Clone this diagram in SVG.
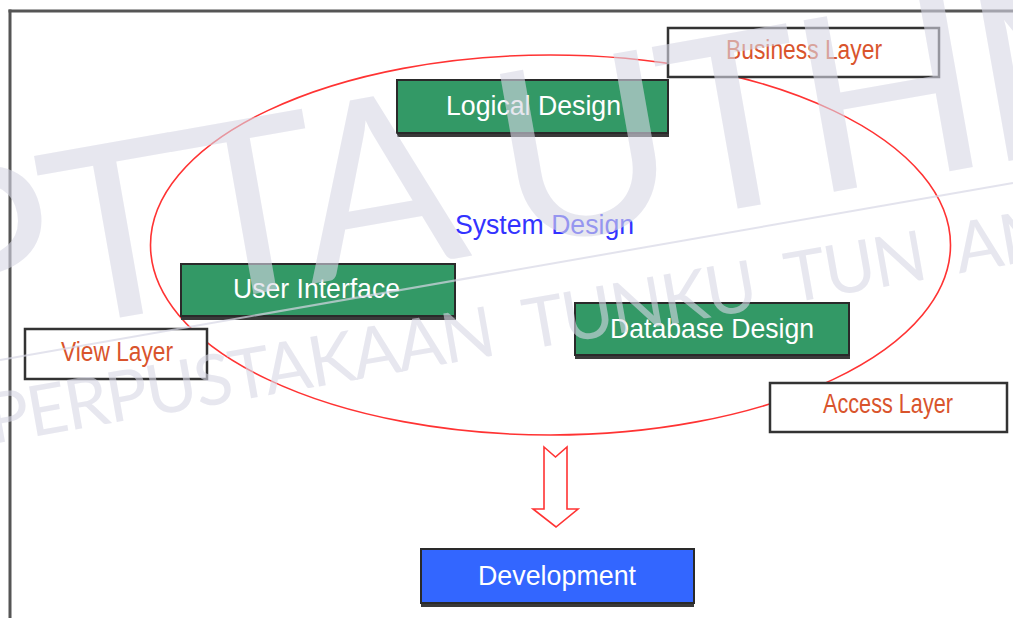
<svg xmlns="http://www.w3.org/2000/svg" width="1013" height="618" viewBox="0 0 1013 618">
<style>
.lbl{fill:#ffffff;stroke:#333333;stroke-width:2.5}
.lt{font-family:"Liberation Sans",Arial,sans-serif;font-size:27px;fill:#d9542c}
.g{fill:#339966;stroke:#2a2a2a;stroke-width:2}
.sh{fill:#3a3a3a}
.gt{font-family:"Liberation Sans",Arial,sans-serif;font-size:28px;fill:#ffffff}
.wm{font-family:Lato,"DejaVu Sans",sans-serif;fill:#d8d8e6;opacity:0.6}
</style>
<rect x="0" y="0" width="1013" height="618" fill="#ffffff"/>
<g id="frame" fill="none" stroke="#555555">
<line x1="8.5" y1="11" x2="1013" y2="11" stroke-width="3"/>
<line x1="10" y1="9.5" x2="10" y2="618" stroke-width="3"/>
</g>
<g id="system-design">
<ellipse cx="550.5" cy="245" rx="400" ry="190" fill="none" stroke="#ff3333" stroke-width="1.6"/>
<text x="455" y="234" textLength="179" lengthAdjust="spacingAndGlyphs" font-family="Liberation Sans,Arial,sans-serif" font-size="27" fill="#3333ff">System Design</text>
</g>
<g id="business-layer">
<rect class="lbl" x="668" y="28" width="271" height="49"/>
<text class="lt" x="726" y="59" textLength="156" lengthAdjust="spacingAndGlyphs">Business Layer</text>
</g>
<g id="logical-design">
<rect class="sh" x="397" y="82" width="272" height="55"/>
<rect class="g" x="397" y="80" width="271" height="53"/>
<text class="gt" x="446" y="115" textLength="175" lengthAdjust="spacingAndGlyphs">Logical Design</text>
</g>
<g id="user-interface">
<rect class="sh" x="181" y="266" width="275" height="54"/>
<rect class="g" x="181" y="264" width="274" height="52"/>
<text class="gt" x="233" y="298" textLength="167" lengthAdjust="spacingAndGlyphs">User Interface</text>
</g>
<g id="database-design">
<rect class="sh" x="575" y="305" width="275" height="54"/>
<rect class="g" x="575" y="303" width="274" height="52"/>
<text class="gt" x="610" y="338" textLength="204" lengthAdjust="spacingAndGlyphs">Database Design</text>
</g>
<g id="view-layer">
<rect class="lbl" x="25" y="329" width="182" height="50"/>
<text class="lt" x="61" y="361" textLength="112" lengthAdjust="spacingAndGlyphs">View Layer</text>
</g>
<g id="access-layer">
<rect class="lbl" x="770" y="383" width="237" height="49"/>
<text class="lt" x="823" y="413" textLength="130" lengthAdjust="spacingAndGlyphs">Access Layer</text>
</g>
<g id="connectors">
<path d="M544,447 L555.5,457 L567,447 L567,509 L578,509 L556,527 L533,509 L544,509 Z" fill="#ffffff" stroke="#ff3333" stroke-width="1.6" stroke-linejoin="miter"/>
</g>
<g id="development">
<rect class="sh" x="421" y="551" width="273" height="56"/>
<rect fill="#3366ff" stroke="#2a2a2a" stroke-width="2" x="421" y="549" width="273" height="54"/>
<text class="gt" x="478" y="585" textLength="158" lengthAdjust="spacingAndGlyphs">Development</text>
</g>
<g id="watermark">
<text class="wm" transform="translate(-75 352) rotate(-10)" x="0" y="0" font-size="243" letter-spacing="-8">PTTA UTHM</text>
<line x1="0" y1="360" x2="1013" y2="183" stroke="#d8d8e6" stroke-width="2" opacity="0.7"/>
<text class="wm" transform="translate(-8 444) rotate(-10)" x="0" y="0" font-size="70" letter-spacing="-2" word-spacing="18">PERPUSTAKAAN TUNKU TUN AMINAH</text>
</g>
</svg>
